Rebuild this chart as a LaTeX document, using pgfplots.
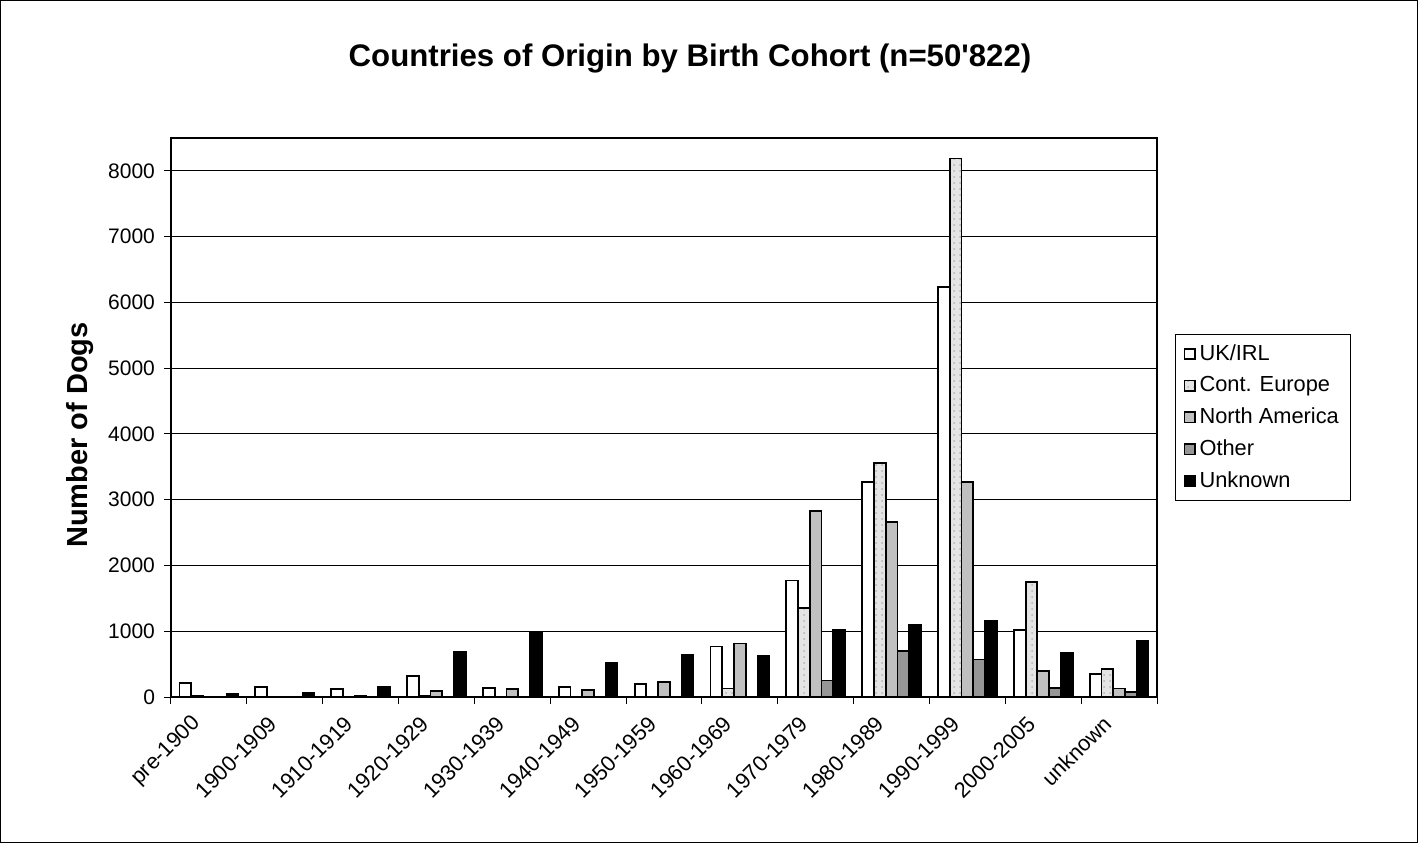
\documentclass[border=0pt]{standalone}
\usepackage{fontspec}
\setmainfont{Liberation Sans}[Ligatures=TeXOff]
\usepackage{pgfplots}
\pgfplotsset{compat=1.18}
\usepackage{pgfplotstable}
\usetikzlibrary{patterns}

\definecolor{cEurope}{RGB}{228,228,228}
\definecolor{cNAm}{RGB}{192,192,192}
\definecolor{cOther}{RGB}{150,150,150}

% cohorts: 0 = pre-1900 ... 12 = unknown
\pgfplotstableread{
x  uk    ce    na    oth  unk
0  215   10    0     0    40
1  150   0     0     0    55
2  125   0     22    0    148
3  315   12    95    0    684
4  137   0     127   0    973
5  152   0     112   0    522
6  193   0     230   0    640
7  768   130   814   0    620
8  1772  1354  2829  251  1015
9  3272  3560  2663  700  1100
10 6236  8189  3273  571  1154
11 1015  1748  399   139  671
12 355   427   128   72   849
}\dogs

\begin{document}
\begin{tikzpicture}
\useasboundingbox (-85.5pt,-73pt) rectangle (623.5pt,348.5pt);
\draw[line width=0.6pt] (-85.2pt,-72.7pt) rectangle (623.2pt,348.2pt);
\begin{axis}[
  at={(0,0)}, anchor=south west,
  scale only axis, width=493pt, height=279.5pt,
  ybar=0pt, bar width=0.155,
  xmin=-0.5, xmax=12.5, ymin=0, ymax=8500,
  xtick={0,...,12},
  xticklabels={pre-1900,1900-1909,1910-1919,1920-1929,1930-1939,1940-1949,1950-1959,1960-1969,1970-1979,1980-1989,1990-1999,2000-2005,unknown},
  minor xtick={-0.5,0.5,...,12.5},
  ytick={0,1000,...,8000},
  major x tick style={draw=none},
  tick align=outside, major tick length=3.5pt, minor tick length=3.5pt,
  xtick pos=bottom, ytick pos=left,
  tick style={black, line width=0.5pt},
  ymajorgrids, major grid style={black, line width=0.5pt},
  axis line style={black, line width=1pt},
  scaled y ticks=false,
  /pgf/number format/assume math mode=true,
  /pgf/number format/1000 sep={},
  tick label style={font=\fontsize{10.5}{12}\selectfont},
  xticklabel style={font=\fontsize{10.9}{12}\selectfont, rotate=45, anchor=east, xshift=-6.3pt, yshift=-1.6pt},
  yticklabel style={xshift=-1pt},
  legend style={at={(1.0183,0.6494)}, anchor=north west, draw=black, line width=0.5pt,
    font=\fontsize{10.9}{12}\selectfont, row sep=2.6pt, inner xsep=4pt, inner ysep=3pt},
  legend cell align=left,
  legend image code/.code={\draw[#1, line width=0.8pt] (0pt,-2.6pt) rectangle (5.2pt,2.6pt);},
  every axis plot/.append style={draw=black, line width=0.9pt},
]
\addplot[fill=white] table[x=x, y=uk] {\dogs};
\addplot[fill=cEurope, postaction={pattern=dots, pattern color=black!30}] table[x=x, y=ce] {\dogs};
\addplot[fill=cNAm] table[x=x, y=na] {\dogs};
\addplot[fill=cOther] table[x=x, y=oth] {\dogs};
\addplot[fill=black] table[x=x, y=unk] {\dogs};
\legend{UK/IRL, Cont. Europe, North America, Other, Unknown}
\end{axis}
\node[font=\bfseries\fontsize{15.6}{18}\selectfont] at (259.5pt,319.5pt) {Countries of Origin by Birth Cohort (n=50'822)};
\node[font=\bfseries\fontsize{14.5}{16}\selectfont, rotate=90] at (-45.5pt,131pt) {Number of Dogs};
\end{tikzpicture}
\end{document}
